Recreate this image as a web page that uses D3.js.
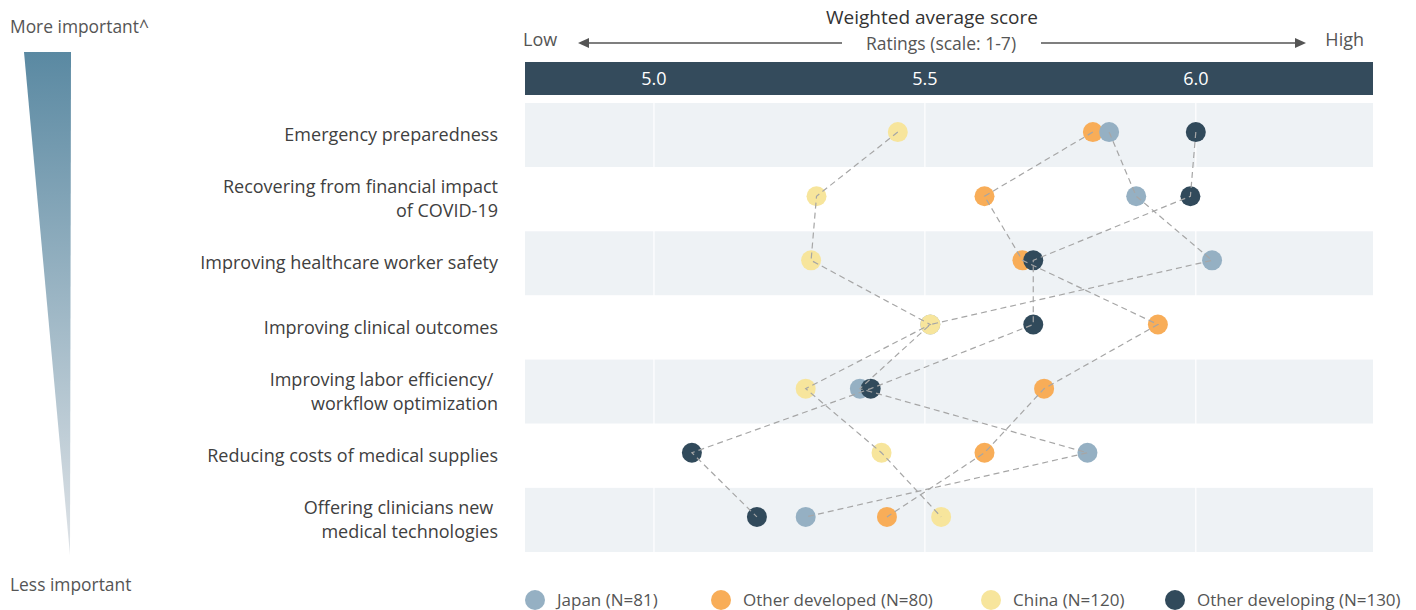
<html>
<head>
  <title>Weighted average score</title>
  <script src="https://d3js.org/d3.v7.min.js"></script>
  <style>
    body { margin: 0; background: #fff; }
    text { font-family: "Open Sans", sans-serif; }
  </style>
</head>
<body>
  <script>
    var categories = [
      ["Emergency preparedness"],
      ["Recovering from financial impact", "of COVID-19"],
      ["Improving healthcare worker safety"],
      ["Improving clinical outcomes"],
      ["Improving labor efficiency/\u00a0", "workflow optimization"],
      ["Reducing costs of medical supplies"],
      ["Offering clinicians new\u00a0", "medical technologies"]
    ];
    var seriesNames = ["Japan (N=81)", "Other developed (N=80)", "China (N=120)", "Other developing (N=130)"];
    var japan           = [5.84, 5.89, 6.03, 5.51, 5.38, 5.80, 5.28];
    var otherDeveloped  = [5.81, 5.61, 5.68, 5.93, 5.72, 5.61, 5.43];
    var china           = [5.45, 5.30, 5.29, 5.51, 5.28, 5.42, 5.53];
    var otherDeveloping = [6.00, 5.99, 5.70, 5.70, 5.40, 5.07, 5.19];
    var tickValues = [5.0, 5.5, 6.0];

    var colors = ["#95b0c3", "#f8ad58", "#f7e59c", "#314a5b"];
    var series = [japan, otherDeveloped, china, otherDeveloping];
    // drawing order so the overlaps look like the original
    var drawOrder = [1, 0, 2, 3];

    var width = 1416, height = 610;
    var svg = d3.select("body").append("svg")
      .attr("width", width)
      .attr("height", height);

    var x = d3.scaleLinear().domain([4.762, 6.327]).range([525, 1373]);
    var y = d3.scaleBand().domain(d3.range(categories.length)).range([103, 552]);

    // left importance wedge
    var grad = svg.append("defs").append("linearGradient")
      .attr("id", "wedge").attr("x1", 0).attr("y1", 0).attr("x2", 0).attr("y2", 1);
    grad.append("stop").attr("offset", "0%").attr("stop-color", "#5a89a2");
    grad.append("stop").attr("offset", "100%").attr("stop-color", "#dfe3e7");
    svg.append("path")
      .attr("d", "M24,52 L71,52 L70,555 Z")
      .attr("fill", "url(#wedge)");
    svg.append("text").attr("x", 10).attr("y", 33)
      .attr("font-size", 17.4).attr("fill", "#555").text("More important^");
    svg.append("text").attr("x", 10).attr("y", 591)
      .attr("font-size", 17.4).attr("fill", "#555").text("Less important");

    // header
    svg.append("text").attr("x", 932).attr("y", 24).attr("text-anchor", "middle")
      .attr("font-size", 19).attr("fill", "#333").text("Weighted average score");
    svg.append("text").attr("x", 523).attr("y", 46)
      .attr("font-size", 18).attr("fill", "#555").text("Low");
    svg.append("text").attr("x", 1364).attr("y", 46).attr("text-anchor", "end")
      .attr("font-size", 18).attr("fill", "#555").text("High");
    svg.append("text").attr("x", 941).attr("y", 50).attr("text-anchor", "middle")
      .attr("font-size", 17.5).attr("fill", "#555").text("Ratings (scale: 1-7)");

    var arrow = svg.append("g").attr("stroke", "#555").attr("stroke-width", 1.3);
    arrow.append("line").attr("x1", 586).attr("x2", 842).attr("y1", 43).attr("y2", 43);
    arrow.append("line").attr("x1", 1041).attr("x2", 1297).attr("y1", 43).attr("y2", 43);
    svg.append("path").attr("d", "M578,43 L589,38 L589,48 Z").attr("fill", "#555");
    svg.append("path").attr("d", "M1306,43 L1295,38 L1295,48 Z").attr("fill", "#555");

    svg.append("rect").attr("x", 525).attr("y", 62).attr("width", 848).attr("height", 33)
      .attr("fill", "#344b5c");
    svg.selectAll(".tick-label").data(tickValues).enter().append("text")
      .attr("class", "tick-label")
      .attr("x", function(d){ return x(d); })
      .attr("y", 85)
      .attr("text-anchor", "middle")
      .attr("font-size", 18)
      .attr("fill", "#fff")
      .text(function(d){ return d.toFixed(1); });

    // row bands
    svg.selectAll(".band").data(d3.range(categories.length)).enter().append("rect")
      .attr("class", "band")
      .attr("x", 525).attr("width", 848)
      .attr("y", function(d){ return y(d); })
      .attr("height", y.bandwidth())
      .attr("fill", function(d){ return d % 2 === 0 ? "#eef2f5" : "#fff"; });

    svg.selectAll(".grid").data(tickValues).enter().append("line")
      .attr("class", "grid")
      .attr("x1", function(d){ return x(d); })
      .attr("x2", function(d){ return x(d); })
      .attr("y1", 103).attr("y2", 552)
      .attr("stroke", "#fff").attr("stroke-width", 1.2);

    // category labels
    var labels = svg.selectAll(".cat").data(categories).enter().append("text")
      .attr("class", "cat")
      .attr("text-anchor", "end")
      .attr("font-size", 18)
      .attr("fill", "#404040")
      .style("white-space", "pre");
    labels.each(function(lines, i){
      var cy = y(i) + y.bandwidth() / 2;
      var t = d3.select(this);
      lines.forEach(function(line, j){
        t.append("tspan")
          .attr("x", 498)
          .attr("y", cy + 6 + (j - (lines.length - 1) / 2) * 24)
          .text(line);
      });
    });

    var cyOf = function(i){ return y(i) + y.bandwidth() / 2 - 3; };

    // points
    drawOrder.forEach(function(s){
      svg.append("g").selectAll("circle").data(series[s]).enter().append("circle")
        .attr("cx", function(d){ return x(d); })
        .attr("cy", function(d, i){ return cyOf(i); })
        .attr("r", 10)
        .attr("fill", colors[s]);
    });

    // dashed connectors, on top of the dots
    var line = d3.line()
      .x(function(d){ return x(d); })
      .y(function(d, i){ return cyOf(i); });
    series.forEach(function(vals){
      svg.append("path")
        .datum(vals)
        .attr("d", line)
        .attr("fill", "none")
        .attr("stroke", "#a6a6a6")
        .attr("stroke-width", 1.2)
        .attr("stroke-dasharray", "6 4");
    });

    // legend
    var legendX = [535, 721, 991, 1175];
    var legend = svg.selectAll(".legend").data(seriesNames).enter().append("g")
      .attr("class", "legend")
      .attr("transform", function(d, i){ return "translate(" + legendX[i] + ",600)"; });
    legend.append("circle").attr("r", 10).attr("fill", function(d, i){ return colors[i]; });
    legend.append("text").attr("x", 22).attr("y", 6)
      .attr("font-size", 17).attr("fill", "#555")
      .text(function(d){ return d; });
  </script>
</body>
</html>
